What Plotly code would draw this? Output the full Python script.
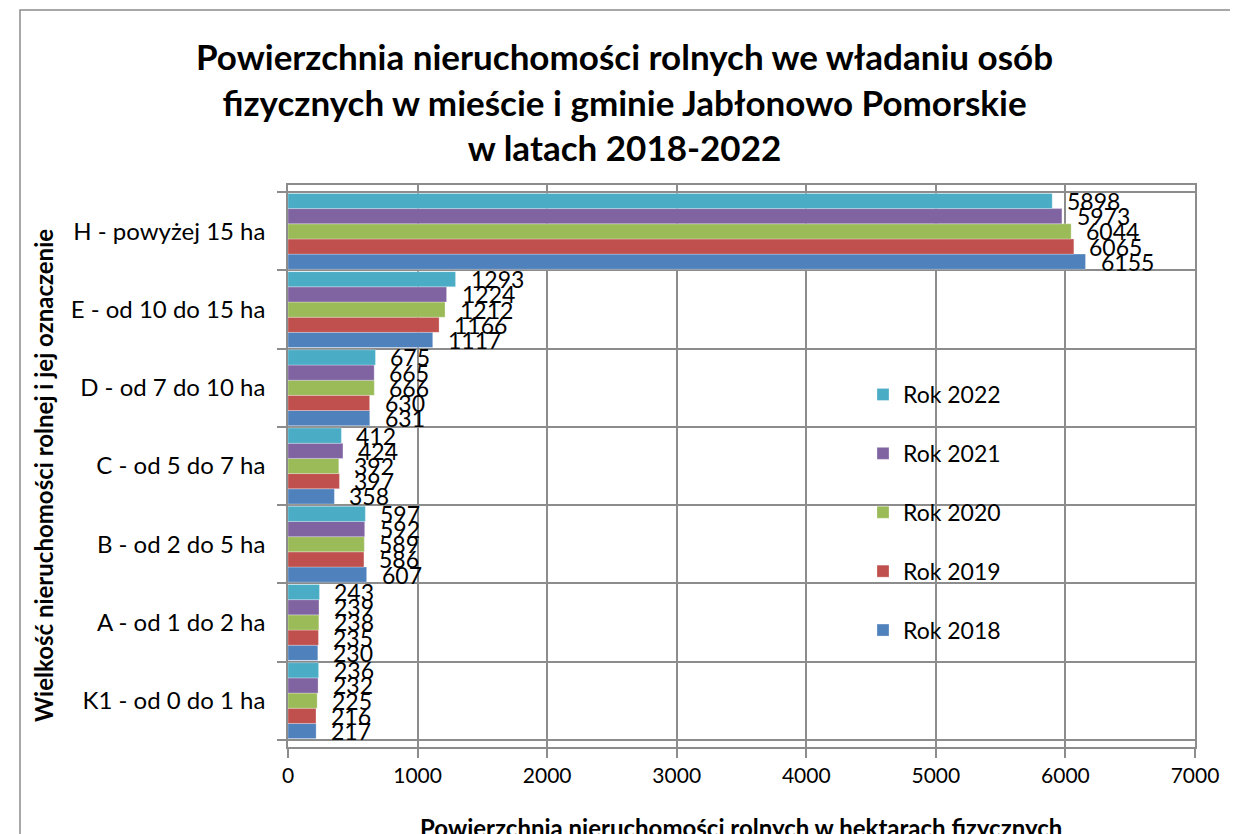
import plotly.graph_objects as go

categories = ["K1 - od 0 do 1 ha", "A - od 1 do 2 ha", "B - od 2 do 5 ha", "C - od 5 do 7 ha",
              "D - od 7 do 10 ha", "E - od 10 do 15 ha", "H - powyżej 15 ha"]
series_names = ["Rok 2018", "Rok 2019", "Rok 2020", "Rok 2021", "Rok 2022"]
rok_2018 = [217, 230, 607, 358, 631, 1117, 6155]
rok_2019 = [216, 235, 586, 397, 630, 1166, 6065]
rok_2020 = [225, 238, 589, 392, 666, 1212, 6044]
rok_2021 = [232, 239, 592, 424, 665, 1224, 5973]
rok_2022 = [236, 243, 597, 412, 675, 1293, 5898]
series_values = [rok_2018, rok_2019, rok_2020, rok_2021, rok_2022]
colors = ["#4F81BD", "#C0504D", "#9BBB59", "#8064A2", "#4BACC6"]
x_ticks = [0, 1000, 2000, 3000, 4000, 5000, 6000, 7000]

# page body has an 8px margin; lay out in absolute page pixels
OFF = 8
W, H = 1238 - OFF, 834 - OFF
L, R, T, B = 288, 1195, 185, 747  # absolute plot-area edges
pw, ph = R - L, B - T

FONT = "Lato"
GRID = "#8C8C8C"
bargap = 0.03

fig = go.Figure()
nser = len(series_names)
for i, (name, vals, col) in enumerate(zip(series_names, series_values, colors)):
    fig.add_trace(go.Bar(
        y=categories, x=vals, name=name, orientation="h",
        marker=dict(color=col, line=dict(color="rgba(255,255,255,0.35)", width=0.8)),
        legendgroup=name, legendrank=nser - i,
    ))

# data labels
bw = (1 - bargap) / nser
for i, vals in enumerate(series_values):
    off = -(1 - bargap) / 2 + (i + 0.5) * bw
    for ci, v in enumerate(vals):
        fig.add_annotation(
            x=v, y=ci + off, xref="x", yref="y", text=str(v), showarrow=False,
            xanchor="left", yanchor="middle", xshift=13,
            font=dict(family=FONT, size=23, color="#000"),
        )

def ax(x):
    return (x - L) / pw

def ay(y):
    return (B - y) / ph

# outer chart border
fig.add_shape(type="rect", xref="paper", yref="paper",
              x0=ax(20), x1=ax(1235), y0=ay(10), y1=ay(870),
              line=dict(color="#8C8C8C", width=1.5), fillcolor="rgba(0,0,0,0)", layer="below")

# title
fig.add_annotation(
    xref="paper", yref="paper", x=ax(624), y=ay(33), xanchor="center", yanchor="top",
    text="<b>Powierzchnia nieruchomości rolnych we władaniu osób<br>fizycznych w mieście i gminie Jabłonowo Pomorskie<br>w latach 2018-2022</b>",
    showarrow=False, font=dict(family=FONT, size=35, color="#000"), align="center",
)
# axis titles
fig.add_annotation(
    xref="paper", yref="paper", x=ax(741), y=ay(827), xanchor="center", yanchor="middle",
    text="<b>Powierzchnia nieruchomości rolnych w hektarach fizycznych</b>",
    showarrow=False, font=dict(family=FONT, size=24, color="#000"),
)
fig.add_annotation(
    xref="paper", yref="paper", x=ax(43), y=ay(475), xanchor="center", yanchor="middle",
    text="<b>Wielkość nieruchomości rolnej i jej oznaczenie</b>", textangle=-90,
    showarrow=False, font=dict(family=FONT, size=24, color="#000"),
)

fig.update_layout(
    width=W, height=H,
    margin=dict(l=L - OFF, r=W - (R - OFF), t=T - OFF, b=H - (B - OFF), autoexpand=False),
    paper_bgcolor="white", plot_bgcolor="white",
    barmode="group", bargap=bargap, bargroupgap=0,
    font=dict(family=FONT, size=20, color="#000"),
    showlegend=True,
    legend=dict(
        x=ax(863), y=ay(373), xanchor="left", yanchor="top",
        traceorder="grouped", tracegroupgap=26,
        bgcolor="rgba(0,0,0,0)", font=dict(family=FONT, size=23, color="#000"),
    ),
    xaxis=dict(
        range=[0, 7000], tickvals=x_ticks, ticktext=[str(t) for t in x_ticks],
        showgrid=True, gridcolor=GRID, gridwidth=1.5,
        ticks="outside", ticklen=9, tickcolor=GRID, tickwidth=1.5,
        showline=True, linecolor=GRID, linewidth=1.5, mirror=True,
        zeroline=False, tickfont=dict(family=FONT, size=21),
        fixedrange=True,
    ),
    yaxis=dict(
        type="category", categoryorder="array", categoryarray=categories,
        tickson="boundaries", showgrid=True, gridcolor=GRID, gridwidth=1.5,
        ticks="outside", ticklen=9, tickcolor=GRID, tickwidth=1.5,
        showline=True, linecolor=GRID, linewidth=1.5, mirror=True,
        tickfont=dict(family=FONT, size=24), ticklabelstandoff=16,
        fixedrange=True,
    ),
)

fig.write_html("out.html")
